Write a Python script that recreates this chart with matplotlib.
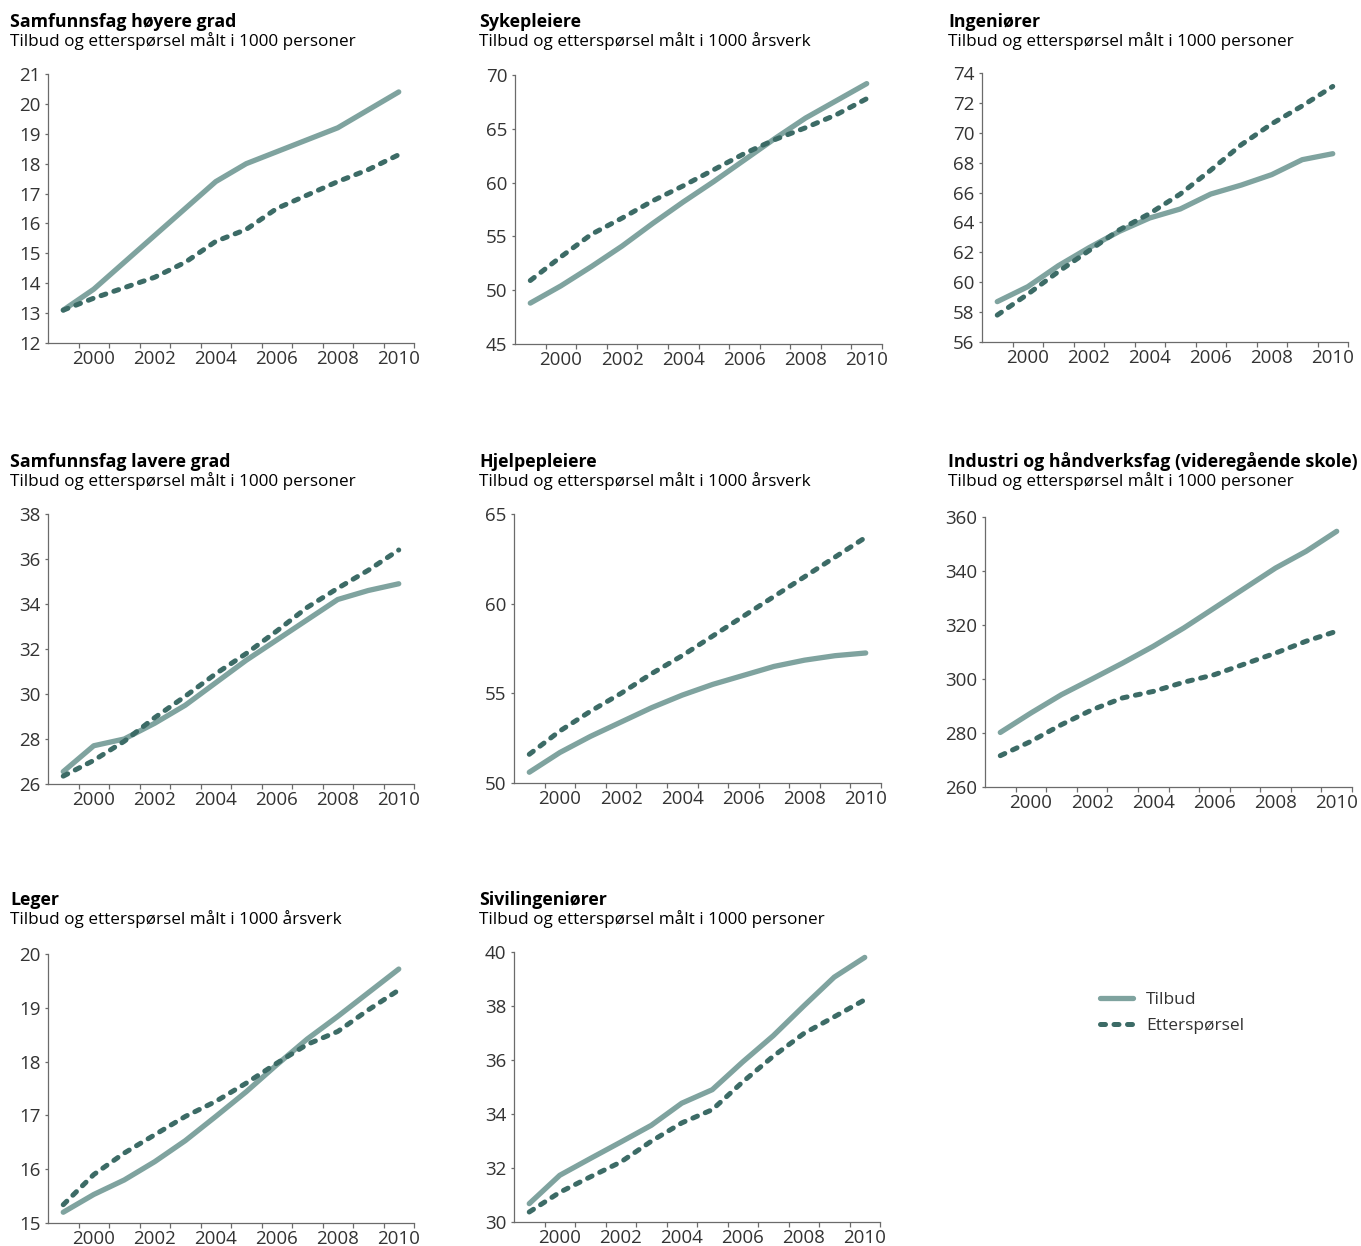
import numpy as np
import matplotlib
matplotlib.use("Agg")
import matplotlib.pyplot as plt
from matplotlib.lines import Line2D

plt.rcParams['font.family'] = ['Open Sans', 'DejaVu Sans']

years = list(range(1999, 2011))

# Samfunnsfag høyere grad
shg_tilbud = [13.1, 13.8, 14.7, 15.6, 16.5, 17.4, 18.0, 18.4, 18.8, 19.2, 19.8, 20.4]
shg_ettersp = [13.1, 13.5, 13.85, 14.2, 14.7, 15.4, 15.8, 16.5, 16.95, 17.4, 17.8, 18.3]

# Sykepleiere
syk_tilbud = [48.8, 50.4, 52.2, 54.1, 56.2, 58.2, 60.1, 62.1, 64.1, 66.0, 67.6, 69.2]
syk_ettersp = [50.9, 53.1, 55.2, 56.7, 58.3, 59.7, 61.2, 62.7, 64.0, 65.1, 66.3, 67.8]

# Ingeniører
ing_tilbud = [58.7, 59.7, 61.1, 62.3, 63.4, 64.3, 64.9, 65.9, 66.5, 67.2, 68.2, 68.6]
ing_ettersp = [57.8, 59.2, 60.7, 62.1, 63.5, 64.6, 65.9, 67.5, 69.2, 70.6, 71.8, 73.1]

# Samfunnsfag lavere grad
slg_tilbud = [26.55, 27.7, 28.0, 28.7, 29.5, 30.5, 31.5, 32.4, 33.3, 34.2, 34.6, 34.9]
slg_ettersp = [26.35, 27.05, 27.9, 28.95, 29.9, 30.9, 31.8, 32.8, 33.85, 34.7, 35.5, 36.4]

# Hjelpepleiere
hjp_tilbud = [50.6, 51.7, 52.6, 53.4, 54.2, 54.9, 55.5, 56.0, 56.5, 56.85, 57.1, 57.25]
hjp_ettersp = [51.6, 52.9, 54.0, 55.0, 56.1, 57.1, 58.2, 59.3, 60.4, 61.5, 62.6, 63.7]

# Industri og håndverksfag
ind_tilbud = [280.2, 287.4, 294.2, 300.0, 305.9, 312.1, 318.9, 326.3, 333.7, 341.1, 347.3, 354.7]
ind_ettersp = [271.6, 276.9, 283.1, 288.6, 293.0, 295.4, 298.8, 301.6, 305.6, 309.6, 314.0, 317.7]

# Leger
leg_tilbud = [15.2, 15.53, 15.8, 16.14, 16.53, 16.98, 17.44, 17.94, 18.42, 18.84, 19.28, 19.72]
leg_ettersp = [15.34, 15.9, 16.3, 16.64, 16.98, 17.26, 17.6, 17.97, 18.32, 18.56, 18.96, 19.33]

# Sivilingeniører
siv_tilbud = [30.68, 31.73, 32.35, 32.96, 33.58, 34.4, 34.9, 35.93, 36.9, 38.0, 39.07, 39.8]
siv_ettersp = [30.37, 31.1, 31.67, 32.22, 32.99, 33.67, 34.16, 35.19, 36.14, 36.98, 37.6, 38.23]

titles = ["Samfunnsfag høyere grad", "Sykepleiere", "Ingeniører",
          "Samfunnsfag lavere grad", "Hjelpepleiere",
          "Industri og håndverksfag (videregående skole)",
          "Leger", "Sivilingeniører"]
subtitles = ["Tilbud og etterspørsel målt i 1000 personer",
             "Tilbud og etterspørsel målt i 1000 årsverk",
             "Tilbud og etterspørsel målt i 1000 personer",
             "Tilbud og etterspørsel målt i 1000 personer",
             "Tilbud og etterspørsel målt i 1000 årsverk",
             "Tilbud og etterspørsel målt i 1000 personer",
             "Tilbud og etterspørsel målt i 1000 årsverk",
             "Tilbud og etterspørsel målt i 1000 personer"]
tilbud = [shg_tilbud, syk_tilbud, ing_tilbud, slg_tilbud, hjp_tilbud, ind_tilbud, leg_tilbud, siv_tilbud]
ettersp = [shg_ettersp, syk_ettersp, ing_ettersp, slg_ettersp, hjp_ettersp, ind_ettersp, leg_ettersp, siv_ettersp]
yranges = [(12, 21, 1), (45, 70, 5), (56, 74, 2), (26, 38, 2),
           (50, 65, 5), (260, 360, 20), (15, 20, 1), (30, 40, 2)]

# axes boxes in pixels: left, right, top, bottom
boxes = [(48, 414, 74, 343), (515, 882, 75, 344), (982, 1348, 73, 342),
         (48, 414, 514, 784), (514, 881, 514, 783), (985, 1352, 517, 787),
         (48, 414, 954, 1223), (514, 880, 952, 1222)]
title_x = [10, 479, 948, 10, 479, 948, 10, 479]
title_y = [27, 27, 27, 467, 467, 467, 905, 905]

W, H = 1361, 1246
c_tilbud = '#7fa39f'
c_ettersp = '#3c6b66'
spine_c = '#6b6b6b'
text_c = '#333333'
dash = (0, (1.0, 1.7))

fig = plt.figure(figsize=(W / 100, H / 100), dpi=100)

for i in range(8):
    l, r, t, b = boxes[i]
    ax = fig.add_axes([l / W, 1 - b / H, (r - l) / W, (b - t) / H])
    ax.plot(years, tilbud[i], color=c_tilbud, lw=3.8, solid_capstyle='round',
            solid_joinstyle='round', zorder=2)
    ax.plot(years, ettersp[i], color=c_ettersp, lw=3.6, linestyle=dash,
            dash_capstyle='round', zorder=3)
    lo, hi, st = yranges[i]
    ax.set_ylim(lo, hi)
    ax.set_yticks(np.arange(lo, hi + st / 2, st))
    ax.set_xlim(1998.5, 2010.5)
    ax.set_xticks(years[1::2])
    ax.set_xticks(np.arange(1999.5, 2010.6, 1), minor=True)
    ax.tick_params(axis='x', which='major', length=0, pad=5, labelsize=13.5, labelcolor=text_c)
    ax.tick_params(axis='x', which='minor', length=3.5, width=0.9, color=spine_c, direction='out')
    ax.tick_params(axis='y', length=2.5, width=0.9, color=spine_c, pad=3, labelsize=13.5, labelcolor=text_c)
    for s in ['top', 'right']:
        ax.spines[s].set_visible(False)
    for s in ['left', 'bottom']:
        ax.spines[s].set_color(spine_c)
        ax.spines[s].set_linewidth(0.9)
    ax.set_facecolor('none')
    fig.text(title_x[i] / W, 1 - title_y[i] / H, titles[i], fontsize=12.8,
             fontweight='bold', color='black', ha='left', va='baseline')
    fig.text(title_x[i] / W, 1 - (title_y[i] + 18.5) / H, subtitles[i], fontsize=12.3,
             color='black', ha='left', va='baseline')

handles = [Line2D([], [], color=c_tilbud, lw=3.8, solid_capstyle='round'),
           Line2D([], [], color=c_ettersp, lw=3.6, linestyle=dash, dash_capstyle='round')]
fig.legend(handles, ['Tilbud', 'Etterspørsel'], loc='upper left',
           bbox_to_anchor=(1100 / W, 1 - 992 / H), frameon=False, fontsize=12.5,
           handlelength=1.9, handletextpad=0.75, labelspacing=0.55, borderaxespad=0,
           borderpad=0, labelcolor=text_c)

fig.savefig('out.png', dpi=100)
